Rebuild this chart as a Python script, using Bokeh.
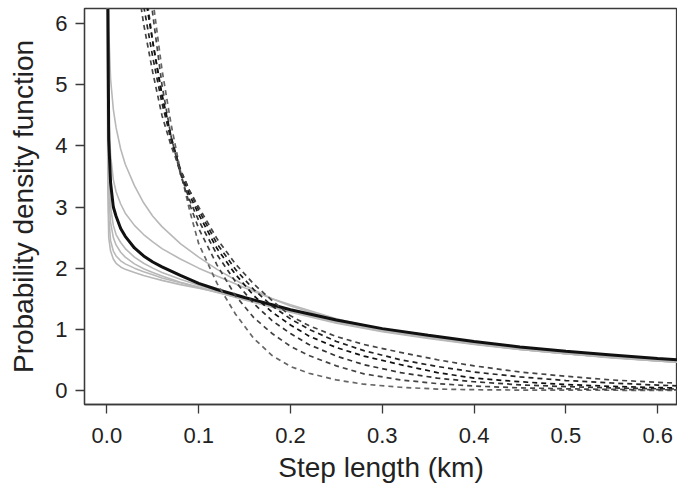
from bokeh.plotting import figure
from bokeh.models import Range1d, FixedTicker, PrintfTickFormatter
from bokeh.embed import file_html
from bokeh.resources import INLINE

# ---- data ----
# x grid for the solid (heavy-tailed) curves, km
x_solid = [0.0003, 0.001, 0.002, 0.004, 0.007, 0.01, 0.015, 0.02, 0.03, 0.04, 0.05, 0.06,
           0.08, 0.1, 0.12, 0.15, 0.18, 0.2, 0.25, 0.3, 0.35, 0.4, 0.45, 0.5, 0.55, 0.6, 0.65]

black_main = [12.0, 6.5, 4.1, 3.4, 3.0, 2.85, 2.65, 2.52, 2.33, 2.2, 2.1, 2.02,
              1.88, 1.75, 1.65, 1.52, 1.4, 1.32, 1.15, 1.01, 0.9, 0.8, 0.71, 0.64, 0.58, 0.52, 0.47]

grey_1 = [12.0, 7.5, 5.9, 5.1, 4.6, 4.3, 3.95, 3.7, 3.35, 3.07, 2.85, 2.68,
          2.4, 2.18, 1.98, 1.72, 1.5, 1.38, 1.15, 0.98, 0.86, 0.76, 0.67, 0.6, 0.54, 0.49, 0.44]
grey_2 = [6.8, 3.3, 2.5, 2.28, 2.15, 2.08, 2.02, 1.98, 1.93, 1.88, 1.84, 1.8,
          1.73, 1.67, 1.61, 1.48, 1.36, 1.28, 1.1, 0.96, 0.85, 0.75, 0.67, 0.6, 0.53, 0.48, 0.43]
grey_3 = [9.0, 4.2, 3.2, 2.75, 2.5, 2.38, 2.26, 2.18, 2.07, 1.99, 1.93, 1.87,
          1.77, 1.69, 1.61, 1.5, 1.38, 1.3, 1.12, 0.98, 0.87, 0.77, 0.68, 0.61, 0.55, 0.49, 0.44]
grey_4 = [8.0, 3.7, 2.85, 2.45, 2.28, 2.2, 2.12, 2.07, 2.0, 1.94, 1.89, 1.84,
          1.76, 1.68, 1.6, 1.49, 1.37, 1.29, 1.11, 0.97, 0.86, 0.76, 0.67, 0.6, 0.54, 0.48, 0.43]
grey_5 = [11.0, 5.6, 4.5, 3.85, 3.45, 3.25, 3.05, 2.9, 2.7, 2.55, 2.43, 2.32,
          2.15, 2.0, 1.87, 1.68, 1.5, 1.4, 1.17, 1.0, 0.87, 0.77, 0.68, 0.6, 0.54, 0.48, 0.43]
grey_6 = [10.0, 4.8, 3.6, 3.0, 2.7, 2.55, 2.42, 2.32, 2.18, 2.08, 2.0, 1.93,
          1.82, 1.72, 1.63, 1.51, 1.39, 1.31, 1.13, 0.98, 0.87, 0.77, 0.68, 0.61, 0.55, 0.49, 0.44]

# x grid for the dashed (light-tailed) curves, km
x_dash = [0.03, 0.04, 0.05, 0.06, 0.07, 0.08, 0.09, 0.10, 0.12, 0.14, 0.16, 0.18,
          0.20, 0.22, 0.25, 0.28, 0.32, 0.36, 0.40, 0.45, 0.50, 0.55, 0.60, 0.65]

dash_1 = [9.6, 7.8, 6.4, 5.25, 4.35, 3.6, 2.95, 2.4, 1.75, 1.25, 0.85, 0.57,
          0.39, 0.28, 0.17, 0.1, 0.05, 0.02, 0.01, 0.004, 0.002, 0.001, 0.0, 0.0]
dash_2 = [9.0, 7.4, 6.15, 5.0, 4.15, 3.55, 3.05, 2.65, 2.05, 1.55, 1.19, 0.93,
          0.72, 0.57, 0.4, 0.27, 0.17, 0.11, 0.07, 0.04, 0.025, 0.015, 0.01, 0.006]
dash_3 = [8.2, 6.8, 5.7, 4.8, 4.1, 3.55, 3.12, 2.78, 2.22, 1.78, 1.42, 1.14,
          0.93, 0.75, 0.56, 0.42, 0.29, 0.2, 0.14, 0.09, 0.06, 0.04, 0.025, 0.015]
dash_4 = [7.6, 6.6, 5.7, 4.85, 4.15, 3.6, 3.2, 2.88, 2.32, 1.9, 1.55, 1.28,
          1.07, 0.89, 0.7, 0.56, 0.42, 0.29, 0.2, 0.14, 0.095, 0.065, 0.045, 0.03]
dash_5 = [7.3, 6.3, 5.45, 4.7, 4.1, 3.62, 3.27, 2.95, 2.4, 1.98, 1.65, 1.38,
          1.17, 1.0, 0.8, 0.65, 0.5, 0.39, 0.3, 0.22, 0.16, 0.12, 0.085, 0.06]
dash_6 = [7.0, 6.0, 5.2, 4.5, 4.0, 3.6, 3.27, 3.0, 2.48, 2.07, 1.74, 1.47,
          1.22, 1.06, 0.88, 0.75, 0.62, 0.5, 0.4, 0.3, 0.23, 0.17, 0.13, 0.1]

x_ticks = [0.0, 0.1, 0.2, 0.3, 0.4, 0.5, 0.6]
y_ticks = [0, 1, 2, 3, 4, 5, 6]

FONT = "Liberation Sans"

p = figure(width=677, height=491, output_backend="svg", toolbar_location=None,
           x_range=Range1d(-0.0244, 0.6216), y_range=Range1d(-0.232, 6.25),
           min_border_left=84, min_border_right=0, min_border_top=8, min_border_bottom=87)

p.grid.visible = False
p.background_fill_color = "white"
p.outline_line_color = "#3a3a3a"
p.outline_line_width = 1.3

for ax in (p.xaxis[0], p.yaxis[0]):
    ax.axis_line_color = "#3a3a3a"
    ax.axis_line_width = 1.3
    ax.major_tick_line_color = "#3a3a3a"
    ax.major_tick_line_width = 1.3
    ax.major_tick_in = 0
    ax.major_tick_out = 9
    ax.minor_tick_line_color = None
    ax.major_label_text_font = FONT
    ax.major_label_text_font_size = "22px"
    ax.major_label_text_color = "#222222"
    ax.axis_label_text_font = FONT
    ax.axis_label_text_font_size = "28px"
    ax.axis_label_text_font_style = "normal"
    ax.axis_label_text_color = "#222222"

p.xaxis.ticker = FixedTicker(ticks=x_ticks)
p.xaxis.formatter = PrintfTickFormatter(format="%.1f")
p.xaxis.axis_label = "Step length (km)"
p.xaxis.major_label_standoff = 14
p.xaxis.axis_label_standoff = 6

p.yaxis.ticker = FixedTicker(ticks=y_ticks)
p.yaxis.axis_label = "Probability density function"
p.yaxis.major_label_orientation = "horizontal"
p.yaxis.major_label_standoff = 8
p.yaxis.axis_label_standoff = 13

for g in (grey_1, grey_2, grey_3, grey_4, grey_5, grey_6):
    p.line(x_solid, g, line_color="#b8b8b8", line_width=1.6)

p.line(x_solid, black_main, line_color="#111111", line_width=3)

dash_colors = ["#666666", "#444444", "#333333", "#111111", "#222222", "#444444"]
for d, c in zip((dash_1, dash_2, dash_3, dash_4, dash_5, dash_6), dash_colors):
    p.line(x_dash, d, line_color=c, line_width=1.7, line_dash="5 4")

open("out.html", "w").write(file_html(p, INLINE))
